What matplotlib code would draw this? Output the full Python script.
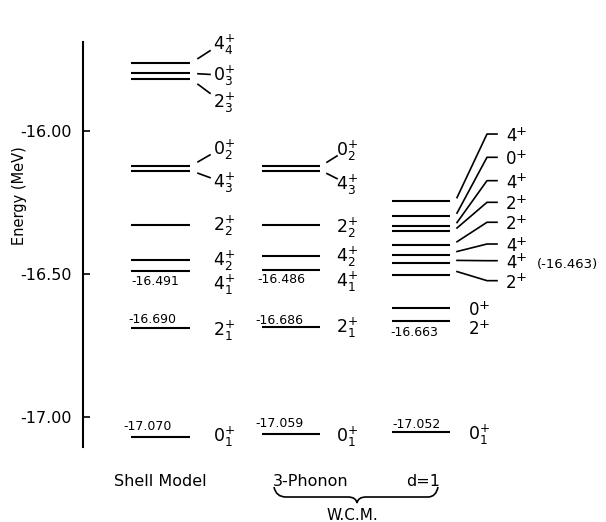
import matplotlib
matplotlib.use('Agg')
import matplotlib.pyplot as plt
import matplotlib.transforms as mtransforms
from matplotlib.path import Path
from matplotlib.patches import PathPatch

# level energies (MeV), spins and level index, top to bottom
shell_E = [-15.763, -15.800, -15.821, -16.122, -16.140, -16.329, -16.451, -16.491, -16.690, -17.070]
shell_spin = [4, 0, 2, 0, 4, 2, 4, 4, 2, 0]
shell_k = [4, 3, 3, 2, 3, 2, 2, 1, 1, 1]

phonon_E = [-16.122, -16.140, -16.329, -16.436, -16.486, -16.686, -17.059]
phonon_spin = [0, 4, 2, 4, 4, 2, 0]
phonon_k = [2, 3, 2, 2, 1, 1, 1]

wcm_E = [-16.244, -16.298, -16.331, -16.350, -16.398, -16.432, -16.463, -16.502,
         -16.618, -16.663, -17.052]
wcm_spin = [4, 0, 4, 2, 2, 4, 4, 2, 0, 2, 0]
wcm_k = [None] * 10 + [1]

yticks = [-16.0, -16.5, -17.0]
ytick_labels = ['-16.00', '-16.50', '-17.00']

# label offsets in pixels (down = positive) from each level
shell_dy = [-19.4, 1.7, 22.4, -17.4, 11, 0, 0, 12, 1, -2]
phonon_dy = [-15.7, 12.6, 1.7, 0, 10.7, -1, 1.3]
wcm_dy = [-65.6, -57.8, -43.9, -27.7, -21.5, -9.5, -1.7, 7.1, 1.2, 7.6, 1.1]

W, H = 606, 522
fig = plt.figure(figsize=(W / 100, H / 100), dpi=100)

Y0, S = 130.7, 286.6   # pixel row of -16.00 and pixels per MeV
ax_top, ax_bot = 42, 446.7
E_top = -16.0 + (Y0 - ax_top) / S
E_bot = -16.0 - (ax_bot - Y0) / S
ax = fig.add_axes([83 / W, 1 - ax_bot / H, 1 - 83 / W, (ax_bot - ax_top) / H])
ax.set_xlim(83, W)
ax.set_ylim(E_bot, E_top)
for sp in ['top', 'right', 'bottom']:
    ax.spines[sp].set_visible(False)
ax.spines['left'].set_linewidth(1.5)
ax.set_xticks([])
ax.set_yticks(yticks)
ax.set_yticklabels(ytick_labels)
ax.tick_params(axis='y', direction='in', length=5, width=1.2, pad=8, labelsize=11.5)


def dE(dy):
    return -dy / S


def spin_label(j, k):
    return r'$%d_{%d}^{+}$' % (j, k)


def plain_label(x, y, j):
    # digit with a separate raised plus sign
    ax.text(x, y, str(j), fontsize=12, va='baseline', ha='left')
    ax.text(x + 10, y + dE(-10), '+', fontsize=9.5, va='center', ha='left')


lw = 1.5
# Shell model column
for i, E in enumerate(shell_E):
    ax.hlines(E, 131, 190, color='k', lw=lw)
    ax.text(213, E + dE(shell_dy[i] + 6), spin_label(shell_spin[i], shell_k[i]),
            fontsize=12.5, va='baseline', ha='left')
    if i < 5:
        ax.plot([198, 210], [E + dE(0.22 * shell_dy[i]), E + dE(0.62 * shell_dy[i])],
                color='k', lw=1.2)

# 3-phonon column
for i, E in enumerate(phonon_E):
    ax.hlines(E, 262, 320, color='k', lw=lw)
    ax.text(336, E + dE(phonon_dy[i] + 6), spin_label(phonon_spin[i], phonon_k[i]),
            fontsize=12.5, va='baseline', ha='left')
    if i < 2:
        ax.plot([327, 337], [E + dE(0.22 * phonon_dy[i]), E + dE(0.62 * phonon_dy[i])],
                color='k', lw=1.2)

# d=1 column
for i, E in enumerate(wcm_E):
    ax.hlines(E, 392, 450, color='k', lw=lw)
    lab = E + dE(wcm_dy[i])
    if i < 8:
        ax.plot([457, 487, 497], [E + dE(-3), lab + dE(-1), lab + dE(-1)],
                color='k', lw=1.2)
        plain_label(506, lab + dE(6), wcm_spin[i])
    elif wcm_k[i] is None:
        plain_label(469, lab + dE(6), wcm_spin[i])
    else:
        ax.text(468, lab + dE(6), spin_label(wcm_spin[i], wcm_k[i]),
                fontsize=12.5, va='baseline', ha='left')

# energies written next to the levels: (column energies, index, x, dy)
value_labels = [
    (shell_E, 7, 131, 10.3), (shell_E, 8, 128, -8.5), (shell_E, 9, 123, -10.7),
    (phonon_E, 4, 257, 10), (phonon_E, 5, 255, -7.3), (phonon_E, 6, 255, -11),
    (wcm_E, 9, 390, 12), (wcm_E, 10, 392, -8),
]
for col, i, x, dy in value_labels:
    ax.text(x, col[i] + dE(dy), '%.3f' % col[i], fontsize=9, ha='left', va='center')
ax.text(537, wcm_E[6] + dE(1.6), '(%.3f)' % wcm_E[6], fontsize=9.5, ha='left', va='center')

fig.text(20 / W, 1 - 196 / H, 'Energy (MeV)', rotation=90, ha='center', va='center',
         fontsize=10.5)
fig.text(160 / W, 1 - 482 / H, 'Shell Model', ha='center', va='center', fontsize=11.5)
fig.text(311 / W, 1 - 482 / H, '3-Phonon', ha='center', va='center', fontsize=11.5)
fig.text(423 / W, 1 - 482 / H, 'd=1', ha='center', va='center', fontsize=11.5)
fig.text(352 / W, 1 - 516 / H, 'W.C.M.', ha='center', va='center', fontsize=11)

# curly brace under the two W.C.M. columns
px = mtransforms.Affine2D().scale(1, -1).translate(0, H)
verts = [(274, 487), (276, 497), (286, 497), (348, 497), (356, 497), (357, 503),
         (358, 497), (366, 497), (428, 497), (436, 497), (438, 487)]
codes = [Path.MOVETO, Path.CURVE3, Path.CURVE3, Path.LINETO, Path.CURVE3, Path.CURVE3,
         Path.CURVE3, Path.CURVE3, Path.LINETO, Path.CURVE3, Path.CURVE3]
fig.add_artist(PathPatch(Path(verts, codes), transform=px, fill=False, lw=1.2, color='k'))

fig.savefig('out.png', dpi=100)
